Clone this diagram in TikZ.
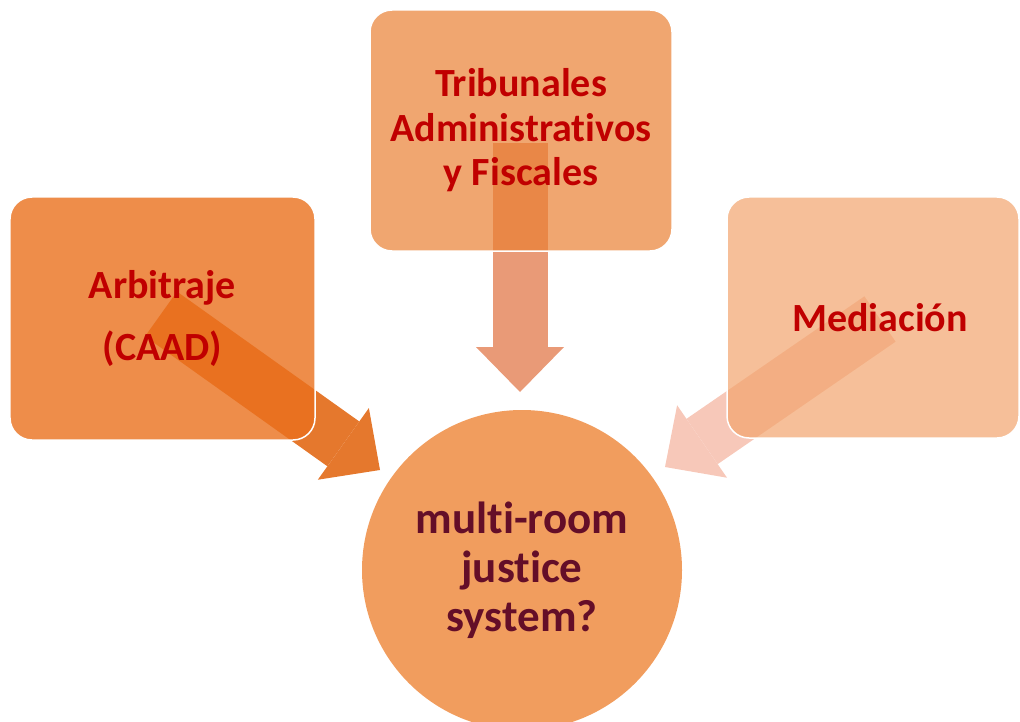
\documentclass[tikz,border=0pt]{standalone}
\usepackage{fontspec}
\setmainfont{Carlito}[Ligatures={NoCommon,NoContextual}]
\usetikzlibrary{arrows.meta,backgrounds}
\definecolor{tribfill}{RGB}{234,128,51}
\definecolor{arbfill}{RGB}{234,112,29}
\definecolor{medfill}{RGB}{242,164,109}
\definecolor{sysfill}{RGB}{241,157,94}
\definecolor{tribarrow}{RGB}{233,154,119}
\definecolor{arbarrow}{RGB}{229,120,45}
\definecolor{medarrow}{RGB}{247,200,185}
\definecolor{boxtext}{RGB}{192,0,0}
\definecolor{systext}{RGB}{100,14,40}
\tikzset{
  roundbox/.style={draw=white, line width=1.5bp, rounded corners=22bp,
    text opacity=1, text=boxtext, align=center, inner sep=0pt,
    font=\bfseries\fontsize{40bp}{44.5bp}\selectfont},
  bigarrow/.style={line width=55bp,
    -{Triangle[length=45bp,width=88bp,line width=0pt]}},
}
\begin{document}
\begin{tikzpicture}[x=1bp,y=-1bp]
\useasboundingbox (0,0) rectangle (1020,722);
% boxes
\node[roundbox, fill=tribfill, fill opacity=0.7,
      minimum width=302bp, minimum height=241bp] (trib) at (521,130.5)
  {Tribunales\\Administrativos\\y Fiscales};
\node[roundbox, fill=arbfill, fill opacity=0.8,
      minimum width=305bp, minimum height=243bp] (arb) at (162.5,318.5)
  {Arbitraje\\[17bp](CAAD)};
\node[roundbox, fill=medfill, fill opacity=0.7,
      minimum width=292bp, minimum height=241bp] (med) at (873,317.5)
  {\hspace*{14bp}Mediación};
% centre circle
\node[circle, fill=sysfill, minimum size=320bp, inner sep=0pt, align=center,
      text=systext, font=\bfseries\fontsize{45bp}{49bp}\selectfont] (sys) at (522,570)
  {multi-room\\justice\\system?};
% arrow ends
\coordinate (tribS) at (520,143);
\coordinate (tribE) at (520,392);
\coordinate (arbS) at (161,314);
\coordinate (arbE) at (380,470);
\coordinate (medS) at (880,319);
\coordinate (medE) at (665,467);
\begin{pgfonlayer}{background}
  \draw[bigarrow, draw=tribarrow, fill=tribarrow] (tribS) -- (tribE);
  \draw[bigarrow, draw=arbarrow, fill=arbarrow] (arbS) -- (arbE);
  \draw[bigarrow, draw=medarrow, fill=medarrow] (medS) -- (medE);
\end{pgfonlayer}
\end{tikzpicture}
\end{document}
